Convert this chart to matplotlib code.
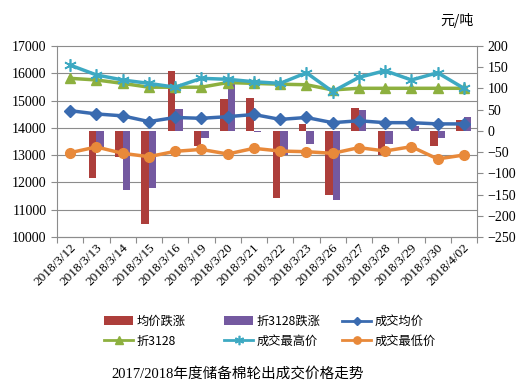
import matplotlib
matplotlib.use("Agg")
import matplotlib.pyplot as plt
import numpy as np

dates = ["2018/3/12", "2018/3/13", "2018/3/14", "2018/3/15", "2018/3/16", "2018/3/19",
         "2018/3/20", "2018/3/21", "2018/3/22", "2018/3/23", "2018/3/26", "2018/3/27",
         "2018/3/28", "2018/3/29", "2018/3/30", "2018/4/02"]
avg_change = [0, -112, -62, -219, 141, -35, 75, 77, -157, 16, -150, 53, -57, -1, -35, 26]
c3128_change = [0, -37, -139, -134, 51, -17, 112, -2, -57, -32, -164, 49, -31, 12, -17, 33]
avg_price = [14630, 14510, 14440, 14230, 14380, 14350, 14410, 14490, 14310, 14380, 14190,
             14260, 14190, 14190, 14145, 14145]
price_3128 = [15815, 15755, 15630, 15490, 15490, 15490, 15660, 15630, 15600, 15580, 15390,
              15450, 15450, 15450, 15450, 15450]
high_price = [16300, 15940, 15755, 15630, 15490, 15815, 15780, 15690, 15630, 16020, 15330,
              15850, 16095, 15755, 16020, 15450]
low_price = [13090, 13300, 13066, 12944, 13140, 13210, 13042, 13250, 13150, 13127, 13066,
             13275, 13152, 13310, 12860, 13005]

serif = ["Liberation Serif", "Noto Sans CJK SC"]
cjk = ["Noto Sans CJK SC", "Liberation Serif"]

fig = plt.figure(figsize=(5.22, 3.91), dpi=100)
axb = fig.add_axes([57/522, 1-237/391, 420/522, 191/391])
axl = axb.twinx()

x = np.arange(len(dates))
w = 0.29

# gridlines (behind bars)
for k in range(8):
    axb.plot([0, 1], [k/7, k/7], transform=axb.transAxes, color="#8c8c8c", lw=0.8, zorder=0,
             clip_on=False)

b1 = axb.bar(x - w/2, avg_change, width=w, color="#AD3E3B", zorder=2, label="均价跌涨")
b2 = axb.bar(x + w/2, c3128_change, width=w, color="#7459A0", zorder=2, label="折3128跌涨")
axb.set_ylim(-250, 200)
axb.set_yticks(np.arange(-250, 201, 50))
axb.yaxis.tick_right()

l1, = axl.plot(x, avg_price, color="#3A6BB0", lw=2.5, marker="D", ms=6, label="成交均价")
l2, = axl.plot(x, price_3128, color="#8DB03F", lw=2.5, marker="^", ms=7, label="折3128")
l3, = axl.plot(x, high_price, color="#3DA9C2", lw=2.5, marker=(6, 2, 0), ms=9, mew=1.2,
               label="成交最高价")
l4, = axl.plot(x, low_price, color="#E8893A", lw=2.5, marker="o", ms=7, label="成交最低价")
axl.set_ylim(10000, 17000)
axl.set_yticks(np.arange(10000, 17001, 1000))
axl.yaxis.tick_left()
axl.yaxis.set_label_position("left")

for a in (axb, axl):
    a.set_xlim(-0.5, len(dates) - 0.5)
    for s in a.spines.values():
        s.set_visible(False)

axb.spines["bottom"].set_visible(True)
axb.spines["bottom"].set_color("#8c8c8c")
axl.spines["left"].set_visible(True)
axl.spines["left"].set_color("#8c8c8c")
axb.spines["right"].set_visible(True)
axb.spines["right"].set_color("#8c8c8c")

axb.set_xticks(np.arange(-0.5, len(dates), 1.0))
axb.set_xticklabels([])
axb.tick_params(axis="x", length=4, color="#8c8c8c", direction="out")
axl.tick_params(axis="x", length=0, labelbottom=False)
axb.tick_params(axis="y", length=4, color="#8c8c8c", labelsize=10)
axl.tick_params(axis="y", length=4, color="#8c8c8c", labelsize=10)
for lab in axb.get_yticklabels() + axl.get_yticklabels():
    lab.set_family(serif)

for i, d in enumerate(dates):
    axb.text(i + 0.15, -0.045, d, transform=axb.get_xaxis_transform(), rotation=45,
             ha="right", va="center", rotation_mode="anchor", fontsize=9.5, family=serif)

fig.text(440/522, 1-20/391, "元/吨", fontsize=10, family=cjk, va="center", ha="left")

columns = [([b1, l2], 104), ([b2, l3], 224), ([l1, l4], 342)]
for hs, xpos in columns:
    leg = fig.legend(handles=hs, labels=[h.get_label() for h in hs], ncol=1,
                     loc="upper left", bbox_to_anchor=(xpos/522, 1-315/391), frameon=False,
                     prop={"family": cjk, "size": 8.8}, handlelength=2.4, markerscale=0.75,
                     handletextpad=0.25, labelspacing=0.55, borderpad=0.0, borderaxespad=0.0)
    for ln in leg.get_lines():
        ln.set_linewidth(2.0)

fig.text(238/522, 1-374/391, "2017/2018年度储备棉轮出成交价格走势", fontsize=10.5,
         family=serif, ha="center", va="center")

fig.savefig("out.png", dpi=100)
